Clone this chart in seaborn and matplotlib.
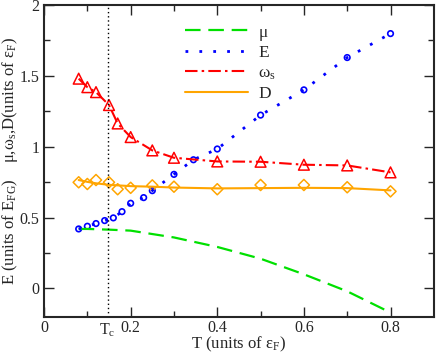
import numpy as np
import seaborn as sns
import matplotlib.pyplot as plt
from matplotlib.ticker import MultipleLocator, FixedLocator
from matplotlib.transforms import blended_transform_factory

# chemical potential (line only)
mu_T = [0.08, 0.1, 0.12, 0.15, 0.2, 0.3, 0.4, 0.5, 0.6, 0.7, 0.8]
mu_val = [0.42, 0.42, 0.418, 0.415, 0.408, 0.36, 0.293, 0.21, 0.1, -0.02, -0.17]

# energy E (circles + dotted line)
E_T = [0.08, 0.1, 0.12, 0.14, 0.16, 0.18, 0.2, 0.23, 0.25, 0.3, 0.345, 0.4, 0.5, 0.6, 0.7, 0.8]
E_val = [0.42, 0.439, 0.458, 0.479, 0.498, 0.542, 0.601, 0.641, 0.69, 0.805, 0.908, 0.984,
         1.223, 1.401, 1.629, 1.798]

# omega_s (triangles + dash-dot line)
om_T = [0.08, 0.1, 0.12, 0.15, 0.17, 0.2, 0.25, 0.3, 0.4, 0.5, 0.6, 0.7, 0.8]
om_val = [1.48, 1.42, 1.385, 1.294, 1.164, 1.068, 0.974, 0.922, 0.896, 0.894, 0.873, 0.868, 0.819]

# D (diamonds) and its smooth fit (solid line)
D_T = [0.08, 0.1, 0.12, 0.15, 0.17, 0.2, 0.25, 0.3, 0.4, 0.5, 0.6, 0.7, 0.8]
D_val = [0.749, 0.737, 0.765, 0.749, 0.70, 0.71, 0.727, 0.718, 0.70, 0.73, 0.73, 0.714, 0.685]
Dfit_T = [0.08, 0.1, 0.12, 0.15, 0.2, 0.25, 0.3, 0.4, 0.5, 0.6, 0.7, 0.8]
Dfit_val = [0.765, 0.752, 0.742, 0.731, 0.722, 0.718, 0.712, 0.706, 0.708, 0.71, 0.708, 0.692]

Tc = 0.147

sns.set_style("ticks")
plt.rcParams['font.family'] = ['Liberation Serif', 'DejaVu Serif']
plt.rcParams['mathtext.fontset'] = 'custom'
plt.rcParams['mathtext.rm'] = 'Liberation Serif'
plt.rcParams['mathtext.it'] = 'Liberation Serif:italic'
plt.rcParams['font.size'] = 11

fig = plt.figure(figsize=(4.36, 3.54), dpi=100)
ax = fig.add_axes([0.101, 0.105, 0.894, 0.881])

green, blue, red, orange = '#00e000', '#0000ff', '#ff0000', '#ffa500'

sns.lineplot(x=mu_T, y=mu_val, ax=ax, color=green, lw=1.6,
             linestyle=(0, (7, 3.5)), label='μ', sort=False)
sns.lineplot(x=E_T, y=E_val, ax=ax, color=blue, lw=2,
             linestyle=(0, (1, 4)), label='E', sort=False)
sns.lineplot(x=om_T, y=om_val, ax=ax, color=red, lw=1.5,
             linestyle=(0, (6, 2, 1.2, 2)), label=r'ω$_{\rm s}$', sort=False)
sns.lineplot(x=Dfit_T, y=Dfit_val, ax=ax, color=orange, lw=1.5,
             label='D', sort=False)

sns.scatterplot(x=E_T, y=E_val, ax=ax, marker='o', s=16, facecolor='none',
                edgecolor=blue, linewidth=1.2, legend=False)
sns.scatterplot(x=om_T, y=om_val, ax=ax, marker='^', s=60, facecolor='none',
                edgecolor=red, linewidth=1.1, legend=False)
sns.scatterplot(x=D_T, y=D_val, ax=ax, marker='D', s=32, facecolor='none',
                edgecolor=orange, linewidth=1.1, legend=False)

ax.axvline(Tc, color='black', lw=1, linestyle=(0, (1, 2)))

ax.set_xlim(0, 0.9)
ax.set_ylim(-0.2, 2)
ax.xaxis.set_major_locator(FixedLocator([0, 0.2, 0.4, 0.6, 0.8]))
ax.xaxis.set_minor_locator(FixedLocator([0.1, 0.3, 0.5, 0.7]))
ax.set_xticklabels(['0', '0.2', '0.4', '0.6', '0.8'])
ax.yaxis.set_major_locator(FixedLocator([0, 0.5, 1, 1.5, 2]))
ax.yaxis.set_minor_locator(MultipleLocator(0.25))
ax.set_yticklabels(['0', '0.5', '1', '1.5', '2'])
ax.tick_params(which='both', direction='in', top=True, right=True, labelsize=11.5)
ax.tick_params(axis='x', which='major', pad=2)
ax.tick_params(which='major', length=7, width=1)
ax.tick_params(which='minor', length=4, width=1)
for sp in ax.spines.values():
    sp.set_linewidth(1.5)

trans = blended_transform_factory(ax.transData, ax.transAxes)
ax.text(Tc, -0.015, r'T$_{\rm c}$', transform=trans, ha='center', va='top', fontsize=11.5)

ax.set_xlabel(r'T (units of ε$_{\rm F}$)', fontsize=12)
ax.xaxis.set_label_coords(0.5, -0.058)
ax.set_ylabel(r'E (units of E$_{\rm FG}$)    μ,ω$_{\rm s}$,D(units of ε$_{\rm F}$)',
              fontsize=12)
ax.yaxis.set_label_coords(-0.062, 0.5)

ax.legend(loc='upper left', bbox_to_anchor=(0.345, 0.96), frameon=False,
          handlelength=3.6, labelspacing=0.25, handletextpad=0.6, fontsize=12.5,
          borderaxespad=0)

fig.savefig('out.png', dpi=100)
